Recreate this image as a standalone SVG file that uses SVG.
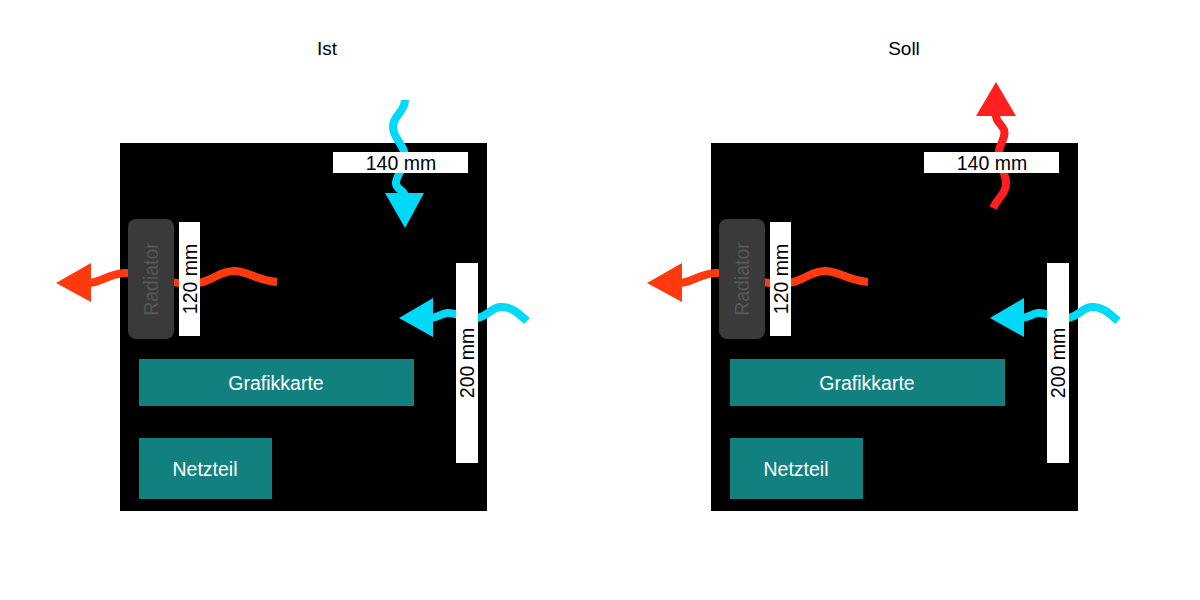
<svg xmlns="http://www.w3.org/2000/svg" width="1200" height="600" viewBox="0 0 1200 600">
<defs>
<style>
text{font-family:"Liberation Sans",Arial,sans-serif;}
.case{fill:#000;}
.part{fill:#138080;}
.partt{fill:#fff;font-size:19.5px;text-anchor:middle;}
.lbl{fill:#fff;}
.lblt{fill:#000;font-size:19.5px;text-anchor:middle;}
.rad{fill:#3a3a3a;}
.radt{fill:#575757;font-size:19.5px;text-anchor:middle;}
.title{fill:#000;font-size:19px;text-anchor:middle;}
.hot{fill:none;stroke:#ff3a0e;stroke-width:8;}
.hotf{fill:#ff3a0e;}
.hot2{fill:none;stroke:#ff1f1f;stroke-width:8;}
.hot2f{fill:#ff1f1f;}
.cold{fill:none;stroke:#00d9f7;stroke-width:8;}
.coldf{fill:#00d9f7;}
</style>
</defs>
<rect width="1200" height="600" fill="#fff"/>
<text class="title" x="327" y="55">Ist</text>
<text class="title" x="904" y="55">Soll</text>

<g id="ist">
<rect id="ist-case" class="case" x="120" y="143" width="367" height="368"/>
<g id="ist-connectors">
<path class="cold" d="M405,100 C405,112 392,116 393,128 C394,140 406,146 405,158 C404,170 395,176 396,184 C397,190 404,190 405,196"/>
<polygon class="coldf" points="385,193 424,193 405,228"/>
<path class="hot" d="M277,282 C258,281 248,271 234,271 C218,271 210,284 190,284 C165,284 145,272 125,273 C108,274 100,283 88,283"/>
<polygon class="hotf" points="56,283 91,263 91,302"/>
<path class="cold" d="M527,321 C517,312 510,306 500,307 C490,308 487,318 475,318 C462,318 455,312 447,313 C440,314 437,318 430,318"/>
<polygon class="coldf" points="399,318 433,298 433,337"/>
</g>
<g id="ist-fan140"><rect class="lbl" x="333" y="152" width="135" height="21"/><text class="lblt" x="401" y="170">140 mm</text></g>
<g id="ist-radiator"><rect class="rad" x="128" y="219" width="46" height="120" rx="8"/><text class="radt" transform="translate(158,279) rotate(-90)">Radiator</text></g>
<g id="ist-fan120"><rect class="lbl" x="179" y="222" width="21" height="114"/><text class="lblt" transform="translate(197,279) rotate(-90)">120 mm</text></g>
<g id="ist-fan200"><rect class="lbl" x="456" y="263" width="22" height="200"/><text class="lblt" transform="translate(474,363) rotate(-90)">200 mm</text></g>
<g id="ist-gpu"><rect class="part" x="139" y="359" width="275" height="47"/><text class="partt" x="276" y="390">Grafikkarte</text></g>
<g id="ist-psu"><rect class="part" x="139" y="438" width="133" height="61"/><text class="partt" x="205" y="476">Netzteil</text></g>
</g>

<g id="soll">
<rect id="soll-case" class="case" x="711" y="143" width="367" height="368"/>
<g id="soll-connectors">
<path class="hot2" d="M993,208 C998,198 1007,192 1006,182 C1005,170 996,160 999,150 C1002,140 1006,136 1004,130 C1002,124 995,122 996,114"/>
<polygon class="hot2f" points="976,116 1016,116 996,82"/>
<path class="hot" d="M868,282 C849,281 839,271 825,271 C809,271 801,284 781,284 C756,284 736,272 716,273 C699,274 691,283 679,283"/>
<polygon class="hotf" points="647,283 682,263 682,302"/>
<path class="cold" d="M1118,321 C1108,312 1101,306 1091,307 C1081,308 1078,318 1066,318 C1053,318 1046,312 1038,313 C1031,314 1028,318 1021,318"/>
<polygon class="coldf" points="990,318 1024,298 1024,337"/>
</g>
<g id="soll-fan140"><rect class="lbl" x="924" y="152" width="135" height="21"/><text class="lblt" x="992" y="170">140 mm</text></g>
<g id="soll-radiator"><rect class="rad" x="719" y="219" width="46" height="120" rx="8"/><text class="radt" transform="translate(749,279) rotate(-90)">Radiator</text></g>
<g id="soll-fan120"><rect class="lbl" x="770" y="222" width="21" height="114"/><text class="lblt" transform="translate(788,279) rotate(-90)">120 mm</text></g>
<g id="soll-fan200"><rect class="lbl" x="1047" y="263" width="22" height="200"/><text class="lblt" transform="translate(1065,363) rotate(-90)">200 mm</text></g>
<g id="soll-gpu"><rect class="part" x="730" y="359" width="275" height="47"/><text class="partt" x="867" y="390">Grafikkarte</text></g>
<g id="soll-psu"><rect class="part" x="730" y="438" width="133" height="61"/><text class="partt" x="796" y="476">Netzteil</text></g>
</g>
</svg>
